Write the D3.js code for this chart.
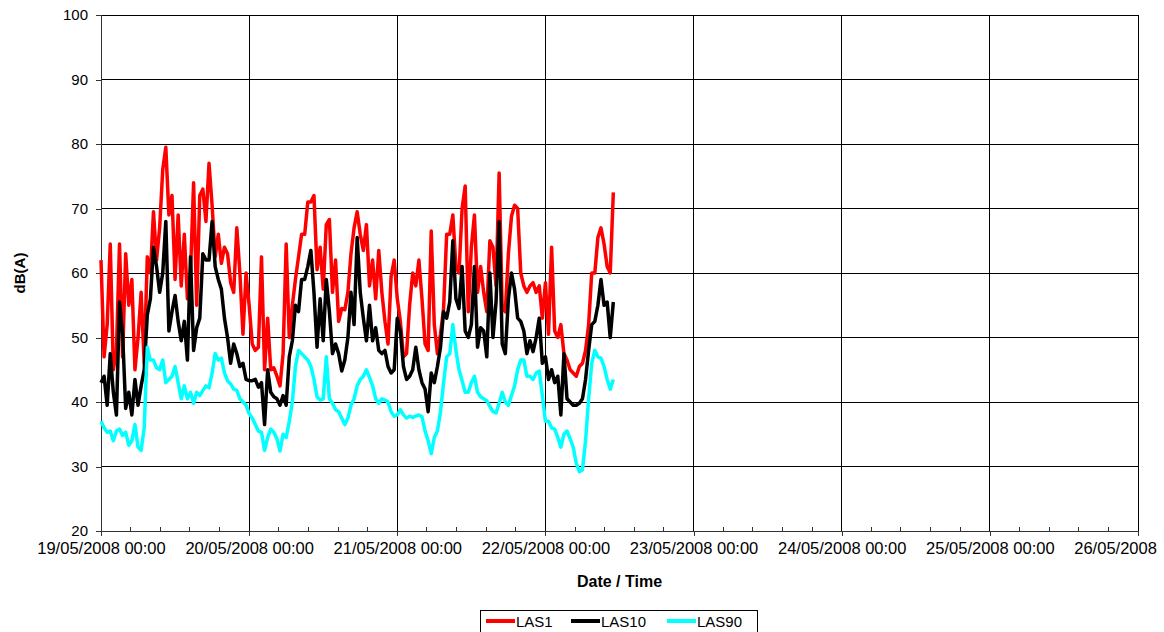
<!DOCTYPE html>
<meta charset="utf-8">
<script src="https://d3js.org/d3.v7.min.js"></script>
<style>
  body { margin: 0; background: #fff; }
  svg { font-family: Arial, "Liberation Sans", sans-serif; }
</style>
<div id="my_dataviz"></div>

<script>
// readings every 30 minutes from 19/05/2008 00:00
const firstReading = new Date(2008, 4, 19, 0, 0);
const stepMinutes = 30;

const las1 = [62, 47, 52, 64.5, 45, 48, 64.5, 47, 63, 55, 59, 45, 50, 57, 46, 62.5, 60, 69.5, 62, 67, 76, 79.5, 69, 72, 59, 69, 58, 66, 56, 60, 74, 55, 72,
  73, 68, 77, 70.5, 62.5, 66, 61.5, 64, 63, 58.5, 57, 67, 60, 50.5, 60, 55, 49, 48, 48.5, 62.5, 45, 53, 45, 45.3, 44, 42.5, 47.5, 64.5, 50, 55, 59, 62.5, 66,
  66, 71, 71, 72, 60.5, 64, 57.5, 67.5, 68.3, 57, 62, 52.5, 54.5, 54.3, 57, 63, 67, 69.5, 66, 63.5, 67.5, 58, 62, 56, 63.5, 57, 52.5, 49, 59.5, 62, 56, 52.5, 47, 47.5,
  55, 60, 58, 62, 56, 49, 48, 66.5, 52, 47.5, 50.5, 54.5, 66, 66, 69, 61, 60, 70, 73.5, 54, 64, 69, 57, 61, 57, 54, 65, 64, 58, 75.5, 54.5, 54, 63,
  68.8, 70.5, 70, 60, 58, 57, 58, 58.5, 57, 58, 53, 58.5, 50.5, 64, 51, 50, 52, 47.5, 46.5, 45, 44.5, 44, 45.5, 46, 48, 52, 60, 60, 65.5, 67, 64.5, 61, 60, 72.5];

const las10 = [43, 44, 39.5, 47.5, 41.5, 38, 55.5, 50.5, 39, 41.5, 38, 43.5, 39.5, 42.5, 45, 53.5, 56, 64, 61, 57, 60, 68, 51, 54, 56.5, 52.5, 49.5, 52.5, 46.5, 62.5, 48, 51.5, 53,
  63, 62, 62, 68, 61, 59, 57.5, 53, 50, 46, 49, 47.5, 45.5, 46, 43.5, 43.3, 43.3, 43.5, 42.3, 43, 36.5, 45, 41.5, 40.8, 40.5, 39.5, 41, 39.5, 47, 49.5, 55, 54, 59,
  59, 61, 63.5, 57, 48.5, 56, 49.5, 59, 54, 47.5, 49, 47.5, 44.8, 46.5, 50, 57, 52, 65.5, 57, 53, 49.5, 55, 49.5, 51.5, 48, 47.5, 48, 45.5, 44.5, 45, 53, 51, 45.5, 43.5,
  44, 45, 48.5, 45, 43, 42, 38.5, 44.5, 43, 45.5, 48.5, 54, 53, 55.5, 65, 56, 54.5, 61, 51, 50, 52, 61, 48.5, 51.5, 51, 47, 60, 50, 55.5, 68, 49, 47.5, 56,
  60, 57.5, 53, 52.5, 51, 47.5, 49.5, 47.8, 50, 53, 46, 47, 43.5, 45, 43, 44, 38, 47.5, 40.5, 40, 39.5, 39.5, 39.8, 40.5, 43.5, 48, 52, 52.5, 55, 59, 55, 55.5, 50, 55.5];

const las90 = [37, 36, 35.3, 35.5, 34, 35.5, 35.8, 34.8, 35.3, 33.3, 34, 36.5, 33, 32.5, 36, 48.5, 46.5, 46.5, 45.3, 45, 46.5, 43, 43.5, 44, 45.5, 43, 40.5, 42.5, 40.5, 41.5, 39.8, 41.5, 41,
  41.8, 42.5, 42.2, 44.5, 47.5, 46.5, 46.8, 44.5, 43.3, 42.8, 42, 41.8, 40.5, 40, 39.5, 38.2, 37.5, 36.5, 35.5, 35.3, 32.5, 34.5, 35.8, 35.3, 34.3, 32.4, 35, 34.5, 37, 40, 45.5, 48, 47.5,
  47, 46.5, 45.5, 43.5, 40.8, 40.3, 40.5, 47, 40.5, 39.8, 38.8, 38.5, 37.5, 36.5, 37.5, 39.5, 40.5, 42.5, 43.5, 44, 45, 43.8, 42.5, 40.5, 39.8, 40.5, 40.3, 40, 38.5, 37.8, 38, 38.8, 38, 37.5,
  37.8, 37.6, 37.8, 38, 37.7, 35.5, 34, 32, 34.5, 35.5, 38.5, 43, 47, 47.5, 52, 48, 45, 43.3, 41.5, 41.5, 43, 44, 41.5, 40.8, 40.5, 40.2, 39.3, 38.5, 38.3, 39.8, 41.5, 40, 39.5,
  41, 42.5, 45, 46.5, 46.5, 44, 44, 43.5, 44.5, 44.8, 41, 37, 37, 36, 35.8, 34.5, 33, 35, 35.5, 34.3, 33, 30.5, 29.2, 29.5, 34, 40.5, 46, 48, 47, 46.8, 45.5, 43.5, 42, 43.5];

const seriesNames = ["LAS1", "LAS10", "LAS90"];
const seriesColors = ["#ff0000", "#000000", "#00ffff"];
const yTicks = [20, 30, 40, 50, 60, 70, 80, 90, 100];
const axisStart = new Date(2008, 4, 19);
const axisEnd = new Date(2008, 4, 26);

const margin = {top: 15, right: 26, bottom: 101, left: 101},
  width = 1164 - margin.left - margin.right,
  height = 632 - margin.top - margin.bottom;

const root = d3.select("#my_dataviz")
  .append("svg")
    .attr("width", 1164)
    .attr("height", 632);
const svg = root.append("g")
    .attr("transform", `translate(${margin.left}, ${margin.top})`);

const x = d3.scaleTime().domain([axisStart, axisEnd]).range([0, width]);
const y = d3.scaleLinear().domain([20, 100]).range([height, 0]);

const days = d3.timeDay.range(axisStart, d3.timeDay.offset(axisEnd, 1));
// 4 minor ticks between days
const minor = [];
days.slice(0, -1).forEach(d => {
  for (let i = 1; i < 5; i++) minor.push(new Date(+d + i * 864e5 / 5));
});

// grid
svg.append("g").selectAll("line").data(yTicks).join("line")
  .attr("x1", 0).attr("x2", width)
  .attr("y1", d => y(d)).attr("y2", d => y(d))
  .attr("stroke", "#000").attr("stroke-width", 1).attr("shape-rendering", "crispEdges");
svg.append("g").selectAll("line").data(days).join("line")
  .attr("x1", d => x(d)).attr("x2", d => x(d))
  .attr("y1", 0).attr("y2", height)
  .attr("stroke", "#000").attr("stroke-width", 1).attr("shape-rendering", "crispEdges");

// axes
const yAxis = svg.append("g")
  .call(d3.axisLeft(y).tickValues(yTicks).tickSize(5).tickPadding(8))
  .style("font-size", "15px");
yAxis.selectAll("path,line").attr("stroke", "#333").attr("shape-rendering", "crispEdges");
yAxis.selectAll("text").attr("fill", "#000").attr("font-family", "Arial, 'Liberation Sans', sans-serif");

const fmt = d3.timeFormat("%d/%m/%Y %H:%M");
const xAxis = svg.append("g")
  .attr("transform", `translate(0, ${height})`)
  .call(d3.axisBottom(x).tickValues(days).tickFormat(fmt).tickSize(5).tickPadding(6))
  .style("font-size", "16.5px");
xAxis.selectAll("path,line").attr("stroke", "#333").attr("shape-rendering", "crispEdges");
xAxis.selectAll("text").attr("fill", "#000").attr("font-family", "Arial, 'Liberation Sans', sans-serif");

// the last label runs past the chart edge: only its date part shows, kept where the full label would start
const lastLabel = xAxis.selectAll(".tick text").filter((d, i, n) => i === n.length - 1);
const fullW = lastLabel.node().getComputedTextLength();
lastLabel.attr("text-anchor", "start").attr("x", -fullW / 2)
  .text(d3.timeFormat("%d/%m/%Y")(axisEnd));

svg.append("g")
  .attr("transform", `translate(0, ${height})`)
  .selectAll("line").data(minor).join("line")
  .attr("x1", d => x(d)).attr("x2", d => x(d))
  .attr("y1", -4).attr("y2", 0)
  .attr("stroke", "#333").attr("shape-rendering", "crispEdges");

// series
const seriesData = [las1, las10, las90];
const line = d3.line()
  .x((d, i) => x(d3.timeMinute.offset(firstReading, i * stepMinutes)))
  .y(d => y(d));
seriesData.forEach((vals, s) => {
  svg.append("path")
    .datum(vals)
    .attr("fill", "none")
    .attr("stroke", seriesColors[s])
    .attr("stroke-width", 3.5)
    .attr("stroke-linejoin", "round")
    .attr("d", line);
});

// titles
root.append("text")
  .attr("x", margin.left + width / 2)
  .attr("y", 587)
  .attr("text-anchor", "middle")
  .style("font-size", "16px")
  .style("font-weight", "bold")
  .text("Date / Time");

root.append("text")
  .attr("transform", `translate(25, ${margin.top + height / 2}) rotate(-90)`)
  .attr("text-anchor", "middle")
  .style("font-size", "15px")
  .style("font-weight", "bold")
  .text("dB(A)");

// legend
const legend = root.append("g").attr("transform", "translate(480, 610)");
legend.append("rect")
  .attr("x", 0.5).attr("y", 0.5).attr("width", 277).attr("height", 30)
  .attr("fill", "#fff").attr("stroke", "#000");
const legendX = [6, 91, 187];
seriesNames.forEach((name, i) => {
  legend.append("line")
    .attr("x1", legendX[i]).attr("x2", legendX[i] + 29)
    .attr("y1", 11).attr("y2", 11)
    .attr("stroke", seriesColors[i]).attr("stroke-width", 4);
  legend.append("text")
    .attr("x", legendX[i] + 30).attr("y", 17)
    .style("font-size", "15px")
    .text(name);
});
</script>
